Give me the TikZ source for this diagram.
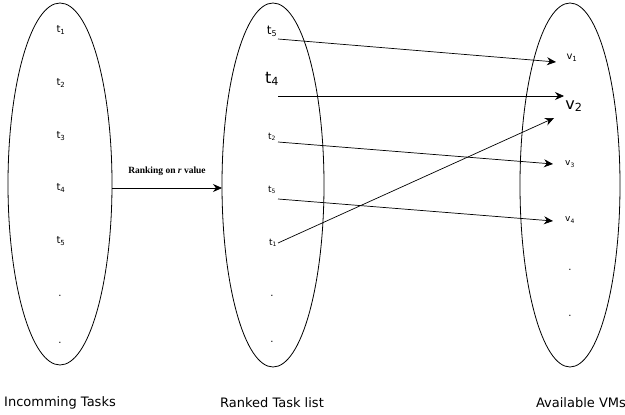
\documentclass[tikz,border=0pt]{standalone}
\usepackage{fontspec}
\setmainfont{DejaVu Sans}
\newfontfamily\rankfont{Liberation Serif}
\usetikzlibrary{arrows.meta}
\begin{document}
\begin{tikzpicture}[x=1pt,y=-1pt,
  setell/.style={draw,line width=0.8pt},
  lbl/.style={font=\fontsize{10}{11}\selectfont,inner sep=1pt},
  midlbl/.style={font=\fontsize{12}{13}\selectfont,inner sep=1pt},
  biglbl/.style={font=\fontsize{16}{17}\selectfont,inner sep=1pt},
  smalllbl/.style={font=\fontsize{9}{10}\selectfont,inner sep=1pt},
  captext/.style={font=\fontsize{13}{15}\selectfont,inner sep=0pt},
  arr/.style={draw,line width=0.7pt,-{Stealth[length=9pt,width=8pt]}}]
\useasboundingbox (0,0) rectangle (625,415);
\draw[setell] (60,184) ellipse [x radius=52, y radius=181];
\draw[setell] (273,185) ellipse [x radius=51, y radius=182];
\draw[setell] (570,185) ellipse [x radius=50, y radius=182];
\coordinate (E1) at (112,188);
\coordinate (E2) at (222,188);
% left
\node[lbl] (a1) at (61,30) {t\textsubscript{1}};
\node[lbl] (a2) at (61,83) {t\textsubscript{2}};
\node[lbl] (a3) at (61,136) {t\textsubscript{3}};
\node[lbl] (a4) at (61,188) {t\textsubscript{4}};
\node[lbl] (a5) at (61,241) {t\textsubscript{5}};
\node[lbl] (a6) at (60,296) {.};
\node[lbl] (a7) at (60,343) {.};
% middle
\node[midlbl] (b1) at (272,31) {t\textsubscript{5}};
\node[biglbl] (b2) at (272,79) {t\textsubscript{4}};
\node[smalllbl] (b3) at (272,137) {t\textsubscript{2}};
\node[smalllbl] (b4) at (272,190) {t\textsubscript{5}};
\node[smalllbl] (b5) at (273,243) {t\textsubscript{1}};
\node[lbl] (b6) at (272,296) {.};
\node[lbl] (b7) at (272,342) {.};
% right
\node[lbl] (c1) at (572,58) {v\textsubscript{1}};
\node[biglbl] (c2) at (574,106) {v\textsubscript{2}};
\node[smalllbl] (c3) at (570,164) {v\textsubscript{3}};
\node[smalllbl] (c4) at (570,220) {v\textsubscript{4}};
\node[lbl] (c5) at (570,270) {.};
\node[lbl] (c6) at (570,316) {.};
% connector end points
\coordinate (s1) at (278,39);
\coordinate (s2) at (278,96);
\coordinate (s3) at (278,142);
\coordinate (s4) at (278,199);
\coordinate (s5) at (278,243);
\coordinate (d1) at (556,62);
\coordinate (d2) at (564,96);
\coordinate (d3) at (553,164);
\coordinate (d4) at (553,221);
\coordinate (d5) at (554,118);
\draw[arr] (s1) -- (d1);
\draw[arr] (s2) -- (d2);
\draw[arr] (s3) -- (d3);
\draw[arr] (s4) -- (d4);
\draw[arr] (s5) -- (d5);
\draw[arr] (E1) -- (E2) node[midway,above=9pt,font=\rankfont\bfseries\fontsize{9.5}{10}\selectfont] (rk) {Ranking on \textit{r} value};
% captions
\node[captext] (n1) at (60,403) {Incomming Tasks};
\node[captext] (n2) at (272,403) {Ranked Task list};
\node[captext] (n3) at (581,403) {Available VMs};
\end{tikzpicture}
\end{document}
